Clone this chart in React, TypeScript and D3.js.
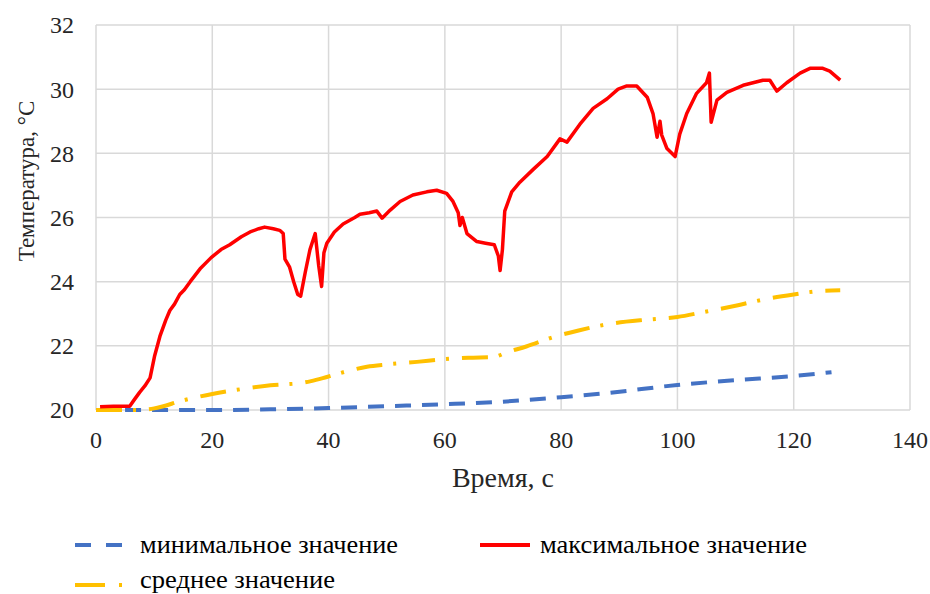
import * as d3 from 'd3';

// time (s) vs temperature (°C)
const maxSeries: [number, number][] = [
  [0.7, 20.1], [3, 20.12], [5.8, 20.12], [6.5, 20.3], [7.5, 20.55], [8.4, 20.75], [9.3, 21.0],
  [10.1, 21.7], [11, 22.3], [12, 22.8], [12.7, 23.1], [13.5, 23.3], [14.4, 23.6], [15.2, 23.75],
  [16.2, 24.0], [17.9, 24.4], [19.8, 24.75], [21.5, 25.0], [23, 25.15], [25, 25.4], [26.5, 25.55],
  [28, 25.65], [29, 25.7], [30.5, 25.65], [31.6, 25.6], [32.2, 25.5], [32.5, 24.7], [33.3, 24.45],
  [34, 24.0], [34.7, 23.6], [35.2, 23.55], [36, 24.3], [36.8, 25.0], [37.7, 25.5], [38.3, 24.5],
  [38.8, 23.85], [39.2, 24.9], [39.7, 25.2], [41, 25.55], [42.5, 25.8], [43.5, 25.9], [44.5, 26.0],
  [45.4, 26.1], [47, 26.15], [48.3, 26.2], [49.2, 25.98], [50.6, 26.23], [52.3, 26.5], [54.5, 26.7],
  [56.9, 26.8], [58.6, 26.85], [60.3, 26.75], [61.4, 26.5], [62.3, 26.15], [62.6, 25.75], [63, 26.0],
  [63.8, 25.5], [65.5, 25.25], [67, 25.2], [68.5, 25.15], [69.2, 24.8], [69.5, 24.35], [69.9, 25.0],
  [70.3, 26.2], [71.5, 26.8], [72.9, 27.1], [75.2, 27.5], [77.6, 27.9], [79.8, 28.45], [81, 28.35],
  [83.2, 28.9], [85.5, 29.4], [87.9, 29.7], [89.8, 30.0], [91.3, 30.1], [93, 30.1], [94.8, 29.75],
  [95.8, 29.24], [96.5, 28.5], [97, 29.0], [97.3, 28.57], [98.2, 28.15], [99.6, 27.9], [100.4, 28.6],
  [101.6, 29.24], [103.3, 29.87], [105, 30.2], [105.5, 30.5], [105.8, 28.97], [106.8, 29.66],
  [108.5, 29.9], [111.3, 30.12], [114.7, 30.28], [115.9, 30.28], [117.1, 29.94], [118.8, 30.2],
  [121.1, 30.5], [122.8, 30.65], [125, 30.65], [126.2, 30.56], [128, 30.28],
];

const minSeries: [number, number][] = [
  [5, 20.0], [20, 20.0], [30, 20.02], [40, 20.06], [50, 20.12], [60, 20.18], [70, 20.26],
  [80, 20.4], [88, 20.53], [100, 20.78], [110, 20.93], [120, 21.06], [126.5, 21.18],
];

const meanSeries: [number, number][] = [
  [0, 20.0], [7, 20.0], [10, 20.05], [15, 20.3], [20, 20.5], [25, 20.65], [30, 20.77],
  [35.6, 20.85], [37, 20.9], [39.7, 21.03], [43, 21.2], [46.6, 21.35], [50, 21.42], [55.2, 21.5],
  [59.7, 21.58], [64, 21.63], [68.3, 21.65], [70.7, 21.8], [74, 21.98], [78.6, 22.27], [83, 22.48],
  [88.9, 22.7], [95, 22.82], [100, 22.9], [104.4, 23.05], [110, 23.25], [115, 23.45], [120, 23.6],
  [124, 23.7], [128, 23.73],
];

const xTicks = [0, 20, 40, 60, 80, 100, 120, 140];
const yTicks = [20, 22, 24, 26, 28, 30, 32];

const legendLabels = ['минимальное значение', 'максимальное значение', 'среднее значение'];

const serif = { fontFamily: "'Liberation Serif', 'DejaVu Serif', serif" };

export default function App() {
  const width = 930;
  const height = 594;
  const margin = { top: 25, right: 20, bottom: 184, left: 96 };

  const x = d3.scaleLinear().domain([0, 140]).range([margin.left, width - margin.right]);
  const y = d3.scaleLinear().domain([20, 32]).range([height - margin.bottom, margin.top]);

  const line = d3.line<[number, number]>().x(d => x(d[0])).y(d => y(d[1]));
  const smooth = d3.line<[number, number]>().x(d => x(d[0])).y(d => y(d[1])).curve(d3.curveMonotoneX);

  const blue = '#4472C4';
  const red = '#FF0000';
  const yellow = '#FFC000';
  const grid = '#D9D9D9';

  return (
    <svg width={width} height={height} style={{ position: 'absolute', left: 0, top: 0, background: '#fff' }}>
      {/* grid */}
      <g>
        {xTicks.map(t => (
          <line key={'gx' + t} x1={x(t)} x2={x(t)} y1={y(20)} y2={y(32)} stroke={grid} strokeWidth={1.5} />
        ))}
        {yTicks.map(t => (
          <line key={'gy' + t} x1={x(0)} x2={x(140)} y1={y(t)} y2={y(t)} stroke={grid} strokeWidth={1.5} />
        ))}
      </g>

      {/* tick labels */}
      {yTicks.map(t => (
        <text key={'ty' + t} x={x(0) - 22} y={y(t)} dy="0.35em" textAnchor="end"
          style={serif} fontSize={24} fill="#262626">{t}</text>
      ))}
      {xTicks.map(t => (
        <text key={'tx' + t} x={x(t)} y={y(20) + 38} textAnchor="middle"
          style={serif} fontSize={24} fill="#262626">{t}</text>
      ))}

      {/* axis titles */}
      <text x={(x(0) + x(140)) / 2} y={487} textAnchor="middle" style={serif} fontSize={28} fill="#262626">
        Время, с
      </text>
      <text transform={`translate(34,181) rotate(-90)`} textAnchor="middle" style={serif} fontSize={23} fill="#262626">
        Температура, °С
      </text>

      {/* series */}
      <path d={smooth(minSeries) ?? ''} fill="none" stroke={blue} strokeWidth={4} strokeDasharray="16 11" />
      <path d={smooth(meanSeries) ?? ''} fill="none" stroke={yellow} strokeWidth={4} strokeDasharray="26 11 3 13" />
      <path d={line(maxSeries) ?? ''} fill="none" stroke={red} strokeWidth={3.5} strokeLinejoin="round" />

      {/* legend */}
      <g style={serif} fontSize={26} fill="#000">
        <line x1={75} x2={122} y1={545} y2={545} stroke={blue} strokeWidth={4} strokeDasharray="16 15" />
        <text x={140} y={553} textLength={258} lengthAdjust="spacingAndGlyphs">{legendLabels[0]}</text>
        <line x1={480} x2={530} y1={545} y2={545} stroke={red} strokeWidth={4} />
        <text x={540} y={553} textLength={267} lengthAdjust="spacingAndGlyphs">{legendLabels[1]}</text>
        <line x1={75} x2={123} y1={585} y2={585} stroke={yellow} strokeWidth={4} strokeDasharray="30 14 3 10" />
        <text x={140} y={588} textLength={195} lengthAdjust="spacingAndGlyphs">{legendLabels[2]}</text>
      </g>
    </svg>
  );
}
